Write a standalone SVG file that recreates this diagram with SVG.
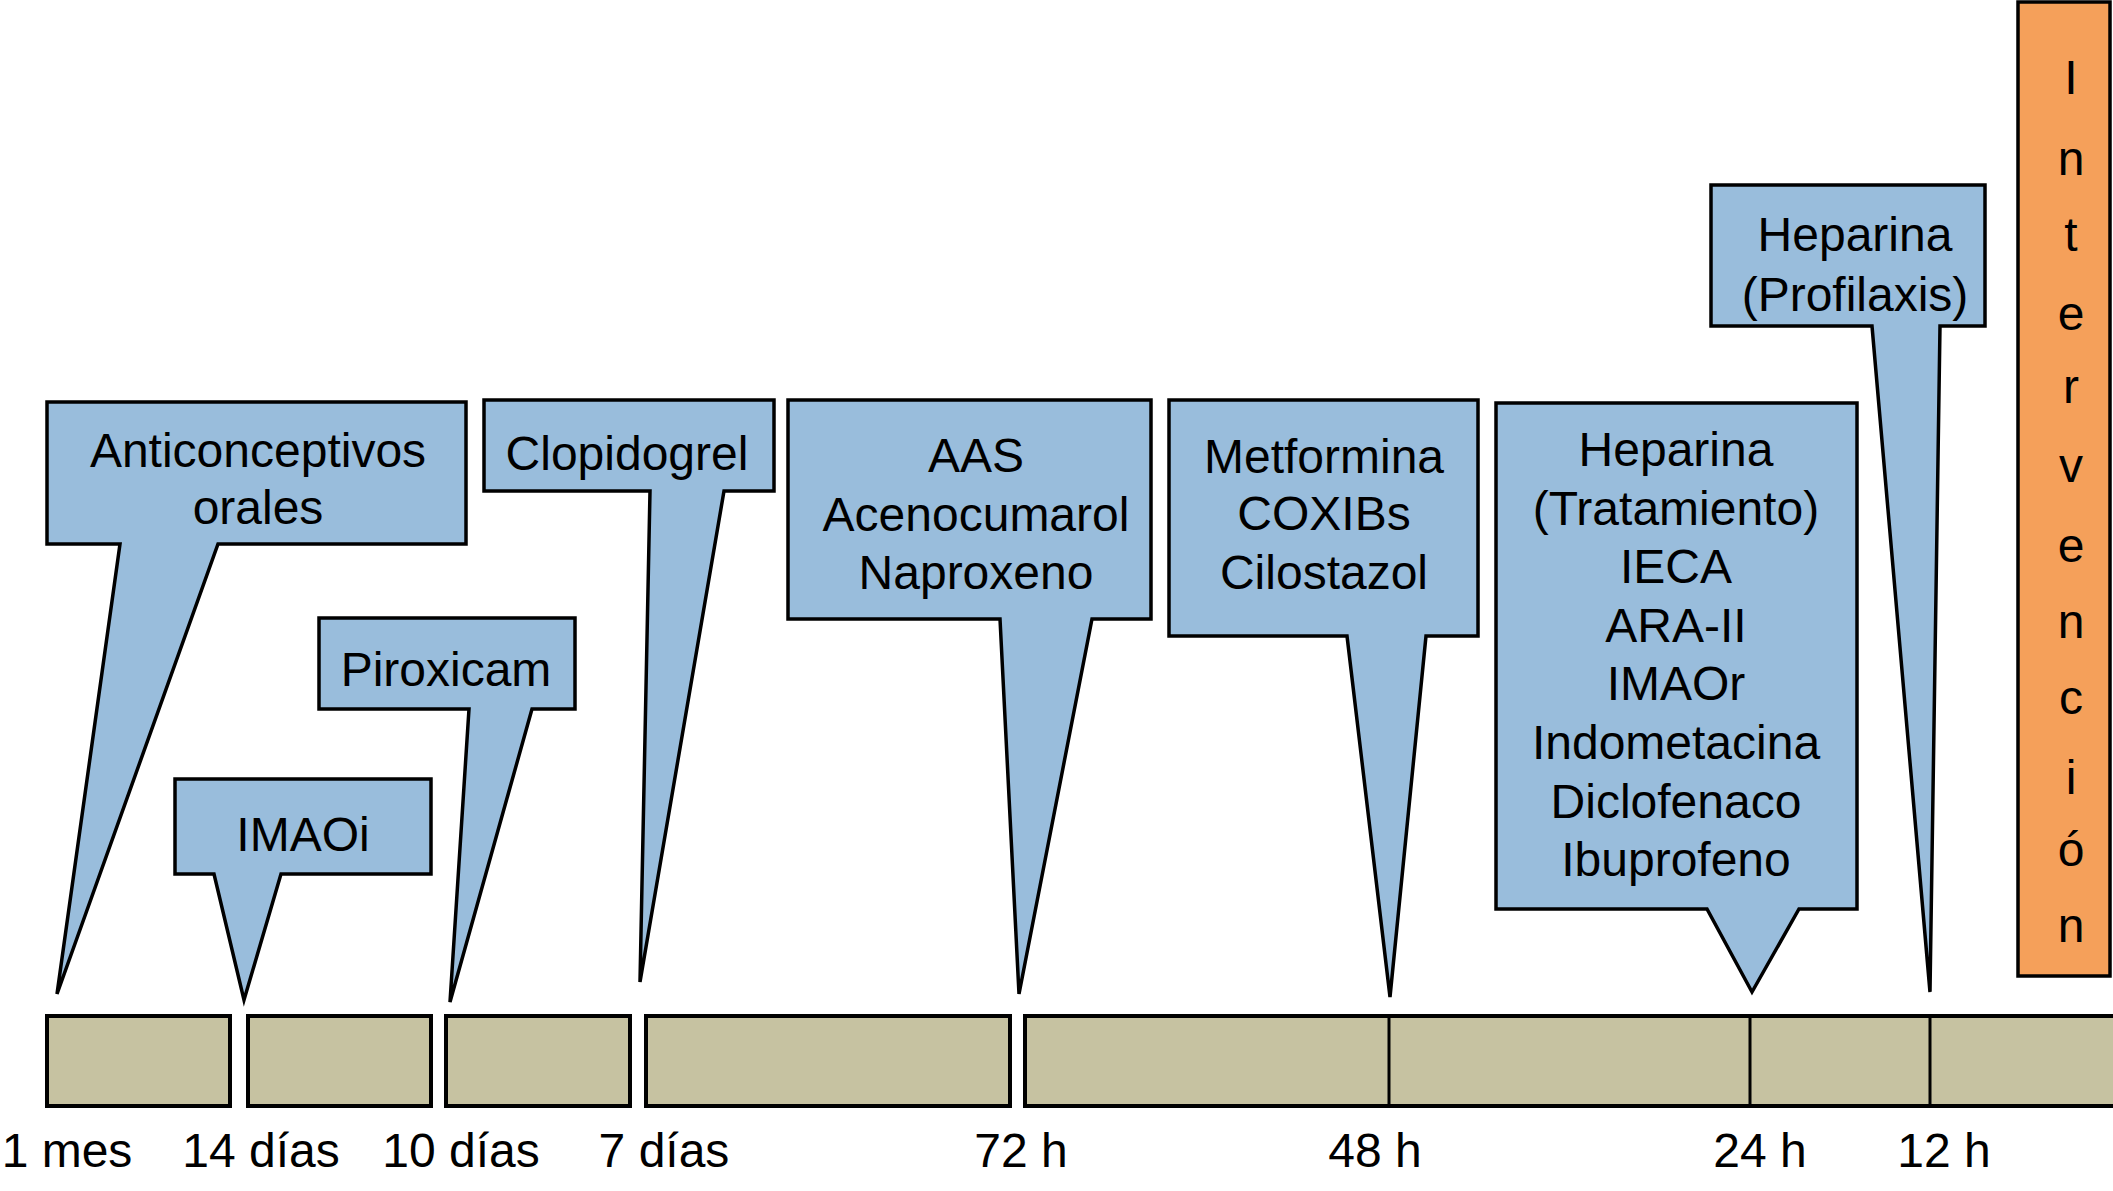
<svg xmlns="http://www.w3.org/2000/svg" width="2113" height="1191" viewBox="0 0 2113 1191">
<style>
.b{fill:#99bddc;stroke:#000;stroke-width:3.5;stroke-linejoin:miter}
.bar{fill:#c6c2a1;stroke:#000;stroke-width:4}
.t{font-family:"Liberation Sans",Arial,sans-serif;font-size:48px;fill:#000;text-anchor:middle}
.d{stroke:#000;stroke-width:3}
</style>
<rect width="2113" height="1191" fill="#fff"/>
<g id="timeline">
<rect class="bar" x="47" y="1016" width="183" height="90"/>
<rect class="bar" x="248" y="1016" width="183" height="90"/>
<rect class="bar" x="446" y="1016" width="184" height="90"/>
<rect class="bar" x="646" y="1016" width="364" height="90"/>
<rect class="bar" x="1025" y="1016" width="1090" height="90"/>
</g>
<g id="connectors">
<line class="d" x1="1389" y1="1016" x2="1389" y2="1106"/>
<line class="d" x1="1750" y1="1016" x2="1750" y2="1106"/>
<line class="d" x1="1930" y1="1016" x2="1930" y2="1106"/>
</g>
<g id="anticonceptivos">
<path class="b" d="M47,402 H466 V544 H218 L57,994 L120,544 H47 Z"/>
<text class="t" x="258" y="467">Anticonceptivos</text>
<text class="t" x="258" y="524">orales</text>
</g>
<g id="imaoi">
<path class="b" d="M175,779 H431 V874 H281 L244,1000 L214,874 H175 Z"/>
<text class="t" x="303" y="851">IMAOi</text>
</g>
<g id="piroxicam">
<path class="b" d="M319,618 H575 V709 H532 L450,1002 L469,709 H319 Z"/>
<text class="t" x="446" y="686">Piroxicam</text>
</g>
<g id="clopidogrel">
<path class="b" d="M484,400 H774 V491 H724 L640,982 L650,491 H484 Z"/>
<text class="t" x="627" y="470">Clopidogrel</text>
</g>
<g id="aas">
<path class="b" d="M788,400 H1151 V619 H1092 L1019,994 L1000,619 H788 Z"/>
<text class="t" x="976" y="472">AAS</text>
<text class="t" x="976" y="531">Acenocumarol</text>
<text class="t" x="976" y="589">Naproxeno</text>
</g>
<g id="metformina">
<path class="b" d="M1169,400 H1478 V636 H1426 L1390,997 L1347,636 H1169 Z"/>
<text class="t" x="1324" y="473">Metformina</text>
<text class="t" x="1324" y="530">COXIBs</text>
<text class="t" x="1324" y="589">Cilostazol</text>
</g>
<g id="heparina-tratamiento">
<path class="b" d="M1496,403 H1857 V909 H1799 L1752,992 L1707,909 H1496 Z"/>
<text class="t" x="1676" y="466">Heparina</text>
<text class="t" x="1676" y="525">(Tratamiento)</text>
<text class="t" x="1676" y="583">IECA</text>
<text class="t" x="1676" y="642">ARA-II</text>
<text class="t" x="1676" y="700">IMAOr</text>
<text class="t" x="1676" y="759">Indometacina</text>
<text class="t" x="1676" y="818">Diclofenaco</text>
<text class="t" x="1676" y="876">Ibuprofeno</text>
</g>
<g id="heparina-profilaxis">
<path class="b" d="M1711,185 H1985 V326 H1940 L1930,992 L1872,326 H1711 Z"/>
<text class="t" x="1855" y="251">Heparina</text>
<text class="t" x="1855" y="311">(Profilaxis)</text>
</g>
<g id="intervencion">
<rect x="2018" y="2" width="92" height="974" fill="#f5a05a" stroke="#000" stroke-width="3.5"/>
<text class="t" x="2071" y="94">I</text>
<text class="t" x="2071" y="175">n</text>
<text class="t" x="2071" y="251">t</text>
<text class="t" x="2071" y="330">e</text>
<text class="t" x="2071" y="403">r</text>
<text class="t" x="2071" y="482">v</text>
<text class="t" x="2071" y="562">e</text>
<text class="t" x="2071" y="638">n</text>
<text class="t" x="2071" y="714">c</text>
<text class="t" x="2071" y="794">i</text>
<text class="t" x="2071" y="866">ó</text>
<text class="t" x="2071" y="942">n</text>
</g>
<g id="labels">
<text class="t" x="67" y="1167">1 mes</text>
<text class="t" x="261" y="1167">14 días</text>
<text class="t" x="461" y="1167">10 días</text>
<text class="t" x="664" y="1167">7 días</text>
<text class="t" x="1021" y="1167">72 h</text>
<text class="t" x="1375" y="1167">48 h</text>
<text class="t" x="1760" y="1167">24 h</text>
<text class="t" x="1944" y="1167">12 h</text>
</g>
</svg>
